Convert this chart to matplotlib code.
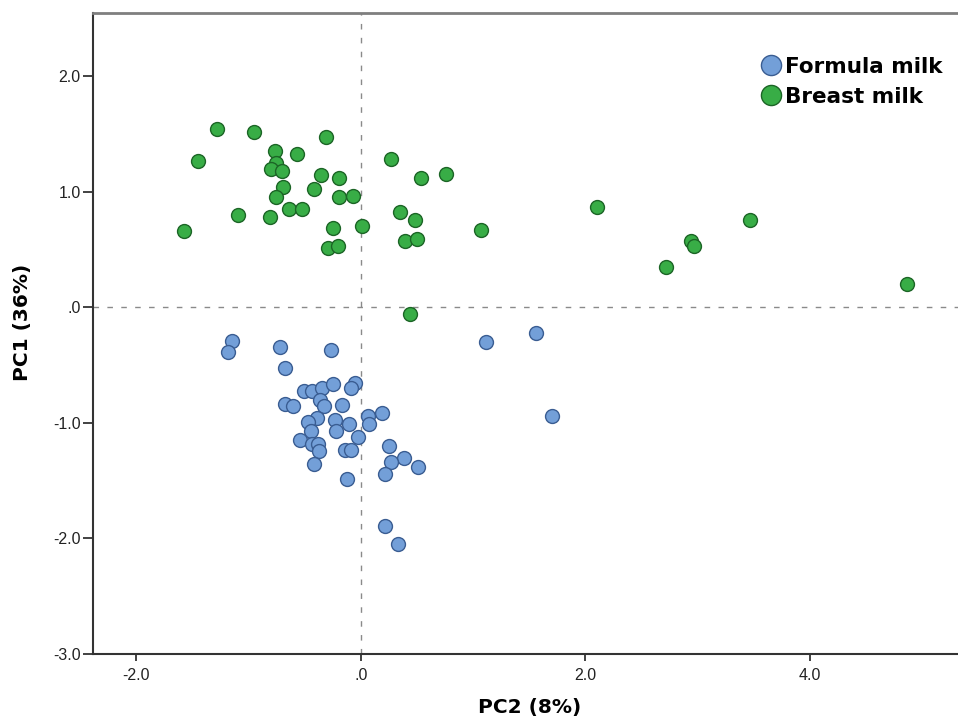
import matplotlib
matplotlib.use("Agg")
import matplotlib.pyplot as plt
from matplotlib.lines import Line2D

# PCA scores (PC2 on x, PC1 on y)
formula_pc2 = [-1.145, -1.183, -0.721, -0.264, -0.670, -0.504, -0.436, -0.341, -0.243, -0.053,
               -0.089, -0.359, -0.327, -0.673, -0.599, -0.166, -0.391, -0.469, -0.225, -0.104,
               0.062, 0.074, -0.439, -0.216, -0.024, -0.543, -0.433, -0.380, -0.374, -0.136,
               -0.089, -0.418, -0.125, 0.193, 0.252, 0.389, 0.273, 0.507, 0.214, 0.220,
               0.329, 1.706, 1.113, 1.563]
formula_pc1 = [-0.293, -0.385, -0.345, -0.365, -0.529, -0.726, -0.720, -0.700, -0.659, -0.654,
               -0.702, -0.798, -0.856, -0.838, -0.856, -0.841, -0.954, -0.992, -0.971, -1.006,
               -0.940, -1.006, -1.072, -1.072, -1.118, -1.144, -1.185, -1.185, -1.246, -1.231,
               -1.237, -1.356, -1.488, -0.914, -1.200, -1.300, -1.335, -1.382, -1.439, -1.889,
               -2.051, -0.942, -0.299, -0.226]

breast_pc2 = [-1.278, -0.952, -0.311, -1.453, -0.765, -0.563, -0.756, -0.801, -0.700, -0.350,
              -0.190, -0.691, -0.415, -0.756, -0.193, -0.071, -0.638, -0.525, -1.097, -0.807,
              -1.572, -0.246, 0.009, -0.287, -0.202, 0.267, 0.534, 0.759, 0.347, 0.480,
              1.068, 0.398, 0.501, 0.436, 2.106, 3.470, 2.945, 2.972, 2.722, 4.869]
breast_pc1 = [1.546, 1.515, 1.474, 1.264, 1.356, 1.324, 1.252, 1.197, 1.180, 1.143,
              1.119, 1.041, 1.026, 0.952, 0.952, 0.966, 0.851, 0.851, 0.799, 0.784,
              0.660, 0.683, 0.701, 0.513, 0.533, 1.286, 1.117, 1.156, 0.822, 0.755,
              0.671, 0.571, 0.593, -0.056, 0.865, 0.753, 0.571, 0.530, 0.348, 0.204]

x_ticks = [-2, 0, 2, 4]
x_tick_labels = ["-2.0", ".0", "2.0", "4.0"]
y_ticks = [-3, -2, -1, 0, 1, 2]
y_tick_labels = ["-3.0", "-2.0", "-1.0", ".0", "1.0", "2.0"]

blue_face, blue_edge = "#739fd8", "#3a5d92"
green_face, green_edge = "#38ad46", "#1c6526"

fig = plt.figure(figsize=(9.58, 7.22), dpi=100)
ax = fig.add_axes([0.0971, 0.0942, 1 - 0.0971, 0.982 - 0.0942])

# zero reference lines
ax.axhline(0, color="#8a8a8a", lw=1.0, ls=(0, (4, 6)), zorder=1)
ax.axvline(0, color="#8a8a8a", lw=1.0, ls=(0, (4, 6)), zorder=1)

ax.scatter(formula_pc2, formula_pc1, s=100, facecolor=blue_face, edgecolor=blue_edge,
           linewidth=1.0, zorder=3)
ax.scatter(breast_pc2, breast_pc1, s=100, facecolor=green_face, edgecolor=green_edge,
           linewidth=1.0, zorder=3)

ax.set_xlim(-2.384, 5.32)
ax.set_ylim(-3.0, 2.548)

ax.set_xticks(x_ticks)
ax.set_xticklabels(x_tick_labels)
ax.set_yticks(y_ticks)
ax.set_yticklabels(y_tick_labels)
for lab in ax.get_xticklabels() + ax.get_yticklabels():
    lab.set_fontfamily("Liberation Sans")
    lab.set_fontsize(11.5)
    lab.set_color("#222222")
ax.tick_params(axis="y", length=7, width=1.3, pad=2, color="#333333")
ax.tick_params(axis="x", length=5, width=1.3, pad=5, color="#333333")

# spines like the SPSS output
ax.spines["right"].set_visible(False)
ax.spines["top"].set_color("#7f7f7f")
ax.spines["top"].set_linewidth(2.0)
for side in ["left", "bottom"]:
    ax.spines[side].set_color("#333333")
    ax.spines[side].set_linewidth(1.5)

ax.set_xlabel("PC2 (8%)", fontsize=14.5, fontweight="bold", fontfamily="DejaVu Sans")
ax.set_ylabel("PC1 (36%)", fontsize=14.5, fontweight="bold", fontfamily="DejaVu Sans")
ax.xaxis.set_label_coords((530 - 93) / 865, -(698 - 654) / 641)
ax.yaxis.set_label_coords(-(93 - 32) / 865, (654 - 322) / 641)

# legend
handles = [
    Line2D([], [], ls="none", marker="o", markersize=14.5, markerfacecolor=blue_face,
           markeredgecolor=blue_edge, markeredgewidth=1.0),
    Line2D([], [], ls="none", marker="o", markersize=14.5, markerfacecolor=green_face,
           markeredgecolor=green_edge, markeredgewidth=1.0),
]
ax.legend(handles, ["Formula milk", "Breast milk"], loc="upper left",
          bbox_to_anchor=(761 / 958, 1 - 57 / 722), bbox_transform=fig.transFigure,
          frameon=False, borderpad=0, borderaxespad=0, handlelength=0.9,
          handletextpad=0.2, labelspacing=0.45,
          prop={"family": "DejaVu Sans", "weight": "bold", "size": 15.5})

fig.savefig("out.png", dpi=100)
